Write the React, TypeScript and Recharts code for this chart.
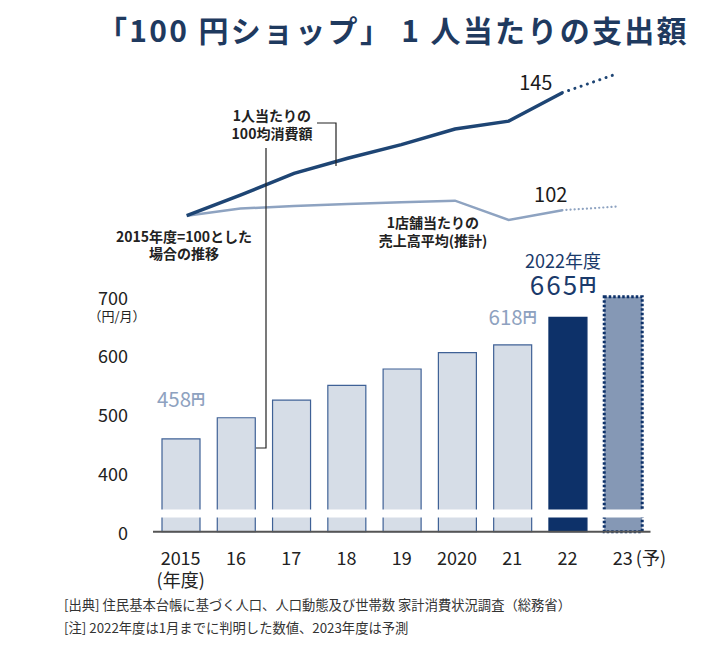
import React from 'react';
import { BarChart, Bar, XAxis, YAxis, Cell, LabelList, ReferenceArea, LineChart, Line } from 'recharts';

const years = ['2015', '16', '17', '18', '19', '2020', '21', '22', '23'];
const spending = [458, 494, 524, 549, 577, 605, 618, 665, 700];
const perCapita = [100, 107.5, 115.5, 121, 126, 131.7, 134.6, 145, null];
const perCapitaForecast = [null, null, null, null, null, null, null, 145, 151.8];
const perStore = [100, 102.6, 103.5, 104.3, 104.9, 105.5, 98.4, 102, null];
const perStoreForecast = [null, null, null, null, null, null, null, 102, 103.3];
const yTickValues = [0, 400, 500, 600, 700];

// the y axis is broken between 0 and 400
const BREAK = 300;
const toAxis = (v: number) => (v === 0 ? 0 : v - BREAK);

const barData = years.map((year, i) => ({ year, value: toAxis(spending[i]), raw: spending[i] }));
const lineData = years.map((year, i) => ({
  year,
  perCapita: perCapita[i],
  perCapitaForecast: perCapitaForecast[i],
  perStore: perStore[i],
  perStoreForecast: perStoreForecast[i],
}));

const FONT = '"Noto Sans CJK JP", "Noto Sans", sans-serif';
const NAVY = '#0d3169';
const LIGHT_FILL = '#d6dde7';
const LIGHT_STROKE = '#3f6196';
const FORECAST_FILL = '#8598b5';
const LABEL_GRAY = '#8ea2c0';

const barFill = (i: number) => (i === 7 ? NAVY : i === 8 ? FORECAST_FILL : LIGHT_FILL);

const XTick = ({ x, y, payload }: any) => {
  const v = payload.value;
  return (
    <g fontFamily={FONT} fontSize={18} fill="#222">
      {v === '23' ? (
        <>
          <text x={x} y={y + 25} textAnchor="middle" dominantBaseline="central">23</text>
          <text x={x + 13} y={y + 25} textAnchor="start" dominantBaseline="central">(予)</text>
        </>
      ) : (
        <text x={x} y={y + 25} textAnchor="middle" dominantBaseline="central">{v}</text>
      )}
      {v === '2015' && (
        <text x={x} y={y + 47} textAnchor="middle" dominantBaseline="central">(年度)</text>
      )}
    </g>
  );
};

const YTick = ({ x, y, payload }: any) => {
  const real = payload.value === 0 ? 0 : payload.value + BREAK;
  return (
    <g fontFamily={FONT} fill="#222">
      <text x={x} y={y} fontSize={18} textAnchor="end" dominantBaseline="central">{real}</text>
      {real === 700 && (
        <text x={x - 11} y={y + 19} fontSize={13} textAnchor="middle" dominantBaseline="central">（円/月）</text>
      )}
    </g>
  );
};

const BarLabel = (props: any) => {
  const { x, y, width, index } = props;
  const cx = x + width / 2;
  const raw = spending[index];
  if (index === 0 || index === 6) {
    return (
      <text x={cx} y={y - (index === 0 ? 41 : 29)} fontFamily={FONT} fill={LABEL_GRAY} textAnchor="middle" dominantBaseline="central">
        <tspan fontSize={20.5}>{raw}</tspan>
        <tspan fontSize={14} fontWeight={700}>円</tspan>
      </text>
    );
  }
  if (index === 7) {
    return (
      <g fontFamily={FONT} fill="#1a3a6b">
        <text x={cx - 5} y={y - 57} fontSize={18} textAnchor="middle" dominantBaseline="central">2022年度</text>
        <text x={cx - 5} y={y - 34} textAnchor="middle" dominantBaseline="central">
          <tspan fontSize={26} letterSpacing={2}>{raw}</tspan>
          <tspan fontSize={17} fontWeight={700}>円</tspan>
        </text>
      </g>
    );
  }
  return null;
};

const LineEndLabel = (offsetX: number, offsetY: number) => (props: any) => {
  const { x, y, index, value } = props;
  if (index !== 7) return null;
  return (
    <text x={x + offsetX} y={y + offsetY} fontFamily={FONT} fontSize={20} fill="#1a1a1a" textAnchor="middle" dominantBaseline="central">
      {value}
    </text>
  );
};

export default function App() {
  return (
    <div style={{ position: 'absolute', left: 0, top: 0, width: 728, height: 650, background: '#fff', fontFamily: FONT }}>
      <div style={{ position: 'absolute', left: 0, top: 0 }}>
        <BarChart width={728} height={650} data={barData} margin={{ top: 285, right: 77.5, bottom: 88.3, left: 93 }} barSize={38}>
          <XAxis dataKey="year" height={30} tickSize={0} tickMargin={0} axisLine={{ stroke: '#555', strokeWidth: 2 }} tickLine={false} tick={<XTick />} interval={0} />
          <YAxis width={60} domain={[0, 420]} ticks={yTickValues.map(toAxis)} axisLine={false} tickLine={false} tickSize={0} tickMargin={25} tick={<YTick />} />
          <Bar dataKey="value" isAnimationActive={false}>
            {barData.map((d, i) => (
              <Cell
                key={d.year}
                fill={barFill(i)}
                stroke={i >= 7 ? NAVY : LIGHT_STROKE}
                strokeWidth={i === 8 ? 3 : 1.2}
                strokeDasharray={i === 8 ? '2.5 2' : undefined}
              />
            ))}
            <LabelList dataKey="raw" content={<BarLabel />} />
          </Bar>
          <ReferenceArea y1={24} y2={38} fill="#fff" fillOpacity={1} stroke="none" ifOverflow="visible" zIndex={600} />
        </BarChart>
      </div>
      <div style={{ position: 'absolute', left: 0, top: 0, pointerEvents: 'none' }}>
        <LineChart width={728} height={650} data={lineData} margin={{ top: 51.7, right: 112, bottom: 407, left: 186.7 }}>
          <XAxis dataKey="year" hide scale="point" padding={{ left: 0, right: 0 }} />
          <YAxis hide domain={[90, 160]} />
          <Line dataKey="perStore" stroke="#8ea3c1" strokeWidth={2.5} dot={false} isAnimationActive={false}>
            <LabelList content={LineEndLabel(-11.6, -17)} />
          </Line>
          <Line dataKey="perStoreForecast" stroke="#8ea3c1" strokeWidth={2.2} strokeDasharray="0.1 4" strokeLinecap="round" dot={false} isAnimationActive={false} />
          <Line dataKey="perCapita" stroke="#1e4574" strokeWidth={3.5} dot={false} isAnimationActive={false}>
            <LabelList content={LineEndLabel(-26.5, -11)} />
          </Line>
          <Line dataKey="perCapitaForecast" stroke="#1e4574" strokeWidth={3} strokeDasharray="0.1 6.5" strokeLinecap="round" dot={false} isAnimationActive={false} />
        </LineChart>
      </div>
      <svg width={728} height={650} style={{ position: 'absolute', left: 0, top: 0, pointerEvents: 'none' }} fontFamily={FONT}>
        <text x={97} y={29} fontSize={30} fontWeight={700} fill="#1f3a5f" letterSpacing={2.3} dominantBaseline="central">「100 円ショップ」 1 人当たりの支出額</text>

        <g fontSize={14} fontWeight={700} fill="#222" textAnchor="middle" dominantBaseline="central">
          <text x={272} y={115}>1人当たりの</text>
          <text x={272} y={133}>100均消費額</text>
          <text x={184} y={236}>2015年度=100とした</text>
          <text x={184} y={253}>場合の推移</text>
          <text x={433} y={222}>1店舗当たりの</text>
          <text x={433} y={240}>売上高平均(推計)</text>
        </g>
        <path d="M317,123 H336 V166" fill="none" stroke="#222" strokeWidth={1.2} />
        <path d="M266,148 V448 H256" fill="none" stroke="#222" strokeWidth={1.2} />

        <g fontSize={13.3} fill="#333" dominantBaseline="central">
          <text x={64} y={604}>[出典] 住民基本台帳に基づく人口、人口動態及び世帯数  家計消費状況調査（総務省）</text>
          <text x={64} y={627}>[注] 2022年度は1月までに判明した数値、2023年度は予測</text>
        </g>
      </svg>
    </div>
  );
}
